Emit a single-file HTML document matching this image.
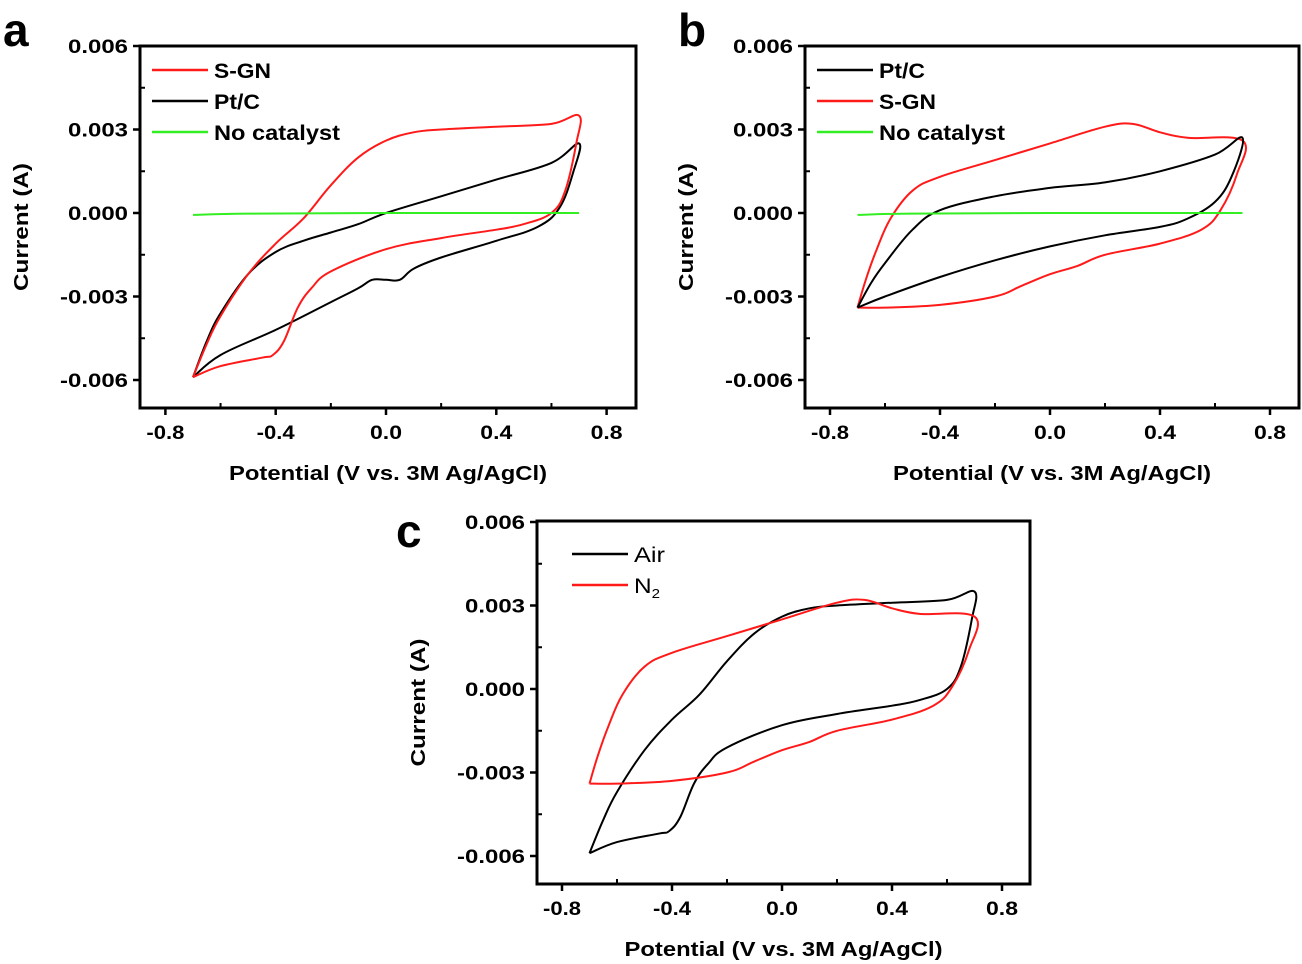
<!DOCTYPE html>
<html><head><meta charset="utf-8"><style>
html,body{margin:0;padding:0;background:#fff;}
svg{display:block;}
text{font-family:"Liberation Sans",Arial,sans-serif;}
</style></head><body>
<svg id="s" width="1302" height="964" viewBox="0 0 1302 964" xmlns="http://www.w3.org/2000/svg"></svg>
<script>
const S=document.getElementById('s');
let h='';
function smooth(P){
  let d='M'+P[0][0].toFixed(1)+','+P[0][1].toFixed(1);
  for(let i=0;i<P.length-1;i++){
    const p0=P[Math.max(i-1,0)],p1=P[i],p2=P[i+1],p3=P[Math.min(i+2,P.length-1)];
    const t=0.18;
    const c1=[p1[0]+(p2[0]-p0[0])*t,p1[1]+(p2[1]-p0[1])*t];
    const c2=[p2[0]-(p3[0]-p1[0])*t,p2[1]-(p3[1]-p1[1])*t];
    d+=`C${c1[0].toFixed(1)},${c1[1].toFixed(1)} ${c2[0].toFixed(1)},${c2[1].toFixed(1)} ${p2[0].toFixed(1)},${p2[1].toFixed(1)}`;
  }
  return d;
}
function T(x,y,s,len,extra){return `<text x="${x}" y="${y}" ${extra} textLength="${len}" lengthAdjust="spacingAndGlyphs">${s}</text>`;}
function panel(L,Tp,R,B,x0px,xStep,y0px,yStep,label,lx,ly,series,legend,legBold,legX,legY){
  const X=v=>x0px+v/0.4*xStep, Y=c=>y0px-c/0.003*yStep;
  for(const s of series){
    const P=s.pts.map(p=>[X(p[0]),Y(p[1])]);
    h+=`<path d="${smooth(P)}" fill="none" stroke="${s.c}" stroke-width="2" stroke-linejoin="round"/>`;
  }
  h+=`<rect x="${L}" y="${Tp}" width="${R-L}" height="${B-Tp}" fill="none" stroke="#000" stroke-width="3"/>`;
  for(let i=-2;i<=2;i++){const x=X(i*0.4);h+=`<line x1="${x}" y1="${B}" x2="${x}" y2="${B+7}" stroke="#000" stroke-width="2.5"/>`;
    const s=(i*0.4).toFixed(1);
    h+=T(x,B+31,s,i<0?38:32,'font-size="19" font-weight="bold" text-anchor="middle"');}
  for(let i=-3;i<=3;i+=2){const x=X(i*0.2);h+=`<line x1="${x}" y1="${B}" x2="${x}" y2="${B-5}" stroke="#000" stroke-width="2"/>`;}
  const yl=['-0.006','-0.003','0.000','0.003','0.006'];
  for(let i=-2;i<=2;i++){const y=Y(i*0.003);h+=`<line x1="${L-7}" y1="${y}" x2="${L}" y2="${y}" stroke="#000" stroke-width="2.5"/>`;
    h+=T(L-12,y+7,yl[i+2],i<0?68:60,'font-size="19" font-weight="bold" text-anchor="end"');}
  for(let i=-3;i<=3;i+=2){const y=Y(i*0.0015);h+=`<line x1="${L}" y1="${y}" x2="${L+5}" y2="${y}" stroke="#000" stroke-width="2"/>`;}
  h+=T((L+R)/2,B+72,'Potential (V vs. 3M Ag/AgCl)',318,'font-size="20" font-weight="bold" text-anchor="middle"');
  h+=`<text transform="translate(${L-112},${(Tp+B)/2}) rotate(-90)" font-size="20" font-weight="bold" text-anchor="middle" textLength="128" lengthAdjust="spacingAndGlyphs">Current (A)</text>`;
  h+=`<text x="${lx}" y="${ly}" font-size="46" font-weight="bold">${label}</text>`;
  legend.forEach((g,i)=>{const y=Tp+legY+i*31;
    h+=`<line x1="${L+legX}" y1="${y}" x2="${L+legX+56}" y2="${y}" stroke="${g[1]}" stroke-width="2.5"/>`;
    h+=`<text x="${L+legX+62}" y="${y+8}" font-size="21" ${legBold?'font-weight="bold"':''} textLength="${g[2]}" lengthAdjust="spacingAndGlyphs">${g[0]}</text>`;});
}
const redA=[[-0.7,-0.0059],[-0.65,-0.0047],[-0.6,-0.0037],[-0.5,-0.0022],[-0.4,-0.0011],[-0.3,-0.0002],[-0.2,0.0010],[-0.1,0.0020],[0,0.0026],[0.1,0.0029],[0.2,0.0030],[0.4,0.0031],[0.6,0.0032],[0.7,0.0035],[0.69,0.0025],[0.65,0.0008],[0.6,0.0000],[0.5,-0.0004],[0.4,-0.0006],[0.2,-0.0009],[0,-0.0013],[-0.2,-0.0021],[-0.27,-0.0027],[-0.32,-0.0034],[-0.37,-0.0046],[-0.41,-0.0051],[-0.45,-0.0052],[-0.6,-0.0055],[-0.7,-0.0059]];
const blackA=[[-0.7,-0.0059],[-0.65,-0.0046],[-0.6,-0.0036],[-0.5,-0.0022],[-0.4,-0.0014],[-0.3,-0.0010],[-0.2,-0.0007],[-0.1,-0.0004],[0,0],[0.2,0.0006],[0.4,0.0012],[0.6,0.0018],[0.7,0.0025],[0.68,0.0015],[0.63,0.0002],[0.55,-0.0005],[0.4,-0.0010],[0.2,-0.0016],[0.1,-0.0020],[0.05,-0.0024],[0,-0.0024],[-0.05,-0.0024],[-0.1,-0.0027],[-0.2,-0.0032],[-0.4,-0.0042],[-0.6,-0.0051],[-0.7,-0.0059]];
const green=[[-0.7,-0.00007],[-0.5,-0.00002],[0,0],[0.7,0]];
const blackB=[[-0.7,-0.0034],[-0.65,-0.0025],[-0.6,-0.0018],[-0.5,-0.0006],[-0.4,0.0001],[-0.2,0.0006],[0,0.0009],[0.2,0.0011],[0.4,0.0015],[0.6,0.0021],[0.7,0.0027],[0.66,0.0013],[0.6,0.0004],[0.5,-0.0002],[0.4,-0.0005],[0.2,-0.0008],[0,-0.0012],[-0.2,-0.0017],[-0.4,-0.0023],[-0.6,-0.0030],[-0.7,-0.0034]];
const redB=[[-0.7,-0.0034],[-0.67,-0.0024],[-0.63,-0.0013],[-0.58,-0.0002],[-0.5,0.0008],[-0.4,0.0013],[-0.2,0.0019],[0,0.0025],[0.2,0.0031],[0.3,0.0032],[0.4,0.0029],[0.5,0.0027],[0.7,0.0026],[0.68,0.0014],[0.62,0.0001],[0.55,-0.0006],[0.4,-0.0011],[0.2,-0.0015],[0.1,-0.0019],[0,-0.0022],[-0.1,-0.0026],[-0.2,-0.0030],[-0.4,-0.0033],[-0.6,-0.0034],[-0.7,-0.0034]];
panel(140,46,636,408,386,110.3,213,83.5,'a',3,46,
  [{c:'#000',pts:blackA},{c:'#ff1a1a',pts:redA},{c:'#33ee22',pts:green}],
  [['S-GN','#ff1a1a',57],['Pt/C','#000',46],['No catalyst','#33ee22',126]],true,12,24);
panel(805,46,1299,408,1050,110,213,83.5,'b',678,46,
  [{c:'#ff1a1a',pts:redB},{c:'#000',pts:blackB},{c:'#33ee22',pts:green}],
  [['Pt/C','#000',46],['S-GN','#ff1a1a',57],['No catalyst','#33ee22',126]],true,12,24);
panel(537,521,1030,884,782,110,689,83.5,'c',396,547,
  [{c:'#000',pts:redA},{c:'#ff1a1a',pts:redB}],
  [['Air','#000',31],['N<tspan font-size="13" dy="5">2</tspan>','#ff1a1a',26]],false,35,33);
S.innerHTML=h;
</script>
</body></html>
